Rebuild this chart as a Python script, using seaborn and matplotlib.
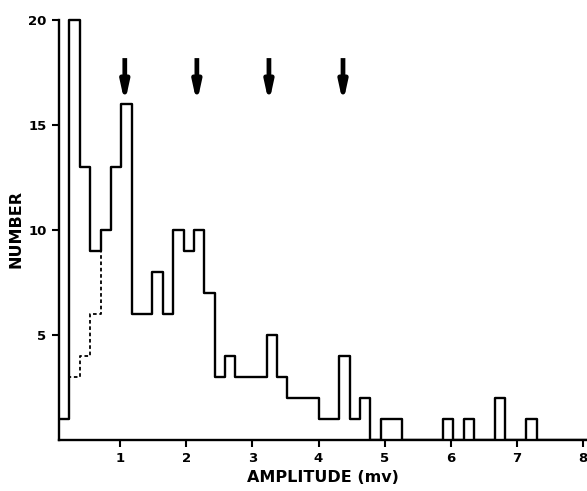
import numpy as np
import matplotlib
matplotlib.use("Agg")
import matplotlib.pyplot as plt
import seaborn as sns

# Histogram of event amplitudes (mv), counts per bin
bin_start = 0.075
bin_width = 0.157
counts = [1, 20, 13, 9, 10, 13, 16, 6, 6, 8,
          6, 10, 9, 10, 7, 3, 4, 3, 3, 3,
          5, 3, 2, 2, 2, 1, 1, 4, 1, 2,
          0, 1, 1, 0, 0, 0, 0, 1, 0, 1,
          0, 0, 2, 0, 0, 1, 0, 0, 0, 0, 0]
# dashed outline over the first bins
dashed_counts = [1, 3, 4, 6, 10]
# arrow positions (mv)
arrow_x = [1.07, 2.16, 3.25, 4.37]

x_ticks = [1, 2, 3, 4, 5, 6, 7, 8]
y_ticks = [5, 10, 15, 20]

sns.set_style("ticks")
plt.rcParams['font.family'] = ['DejaVu Sans']

fig = plt.figure(figsize=(5.87, 4.91), dpi=100)
ax = fig.add_axes([0.1005, 0.104, 0.8995, 0.861])

n = len(counts)
centers = bin_start + bin_width * (np.arange(n) + 0.5)
sns.histplot(x=centers, weights=counts, bins=n,
             binrange=(bin_start, bin_start + n * bin_width),
             element="step", fill=False, color="black", linewidth=1.7,
             ax=ax, zorder=3)

m = len(dashed_counts)
sns.histplot(x=centers[:m], weights=dashed_counts, bins=m,
             binrange=(bin_start, bin_start + m * bin_width),
             element="step", fill=False, color="black", linewidth=1.3,
             linestyle=(0, (2, 1.5)), ax=ax, zorder=2)

for xa in arrow_x:
    ax.annotate("", xy=(xa, 16.05), xytext=(xa, 18.2),
                arrowprops=dict(arrowstyle="-|>,head_width=0.24,head_length=1.1",
                                lw=3.4, color="black", shrinkA=0, shrinkB=0,
                                capstyle="butt"))

ax.set_xlim(bin_start, 8.06)
ax.set_ylim(0, 20.15)
ax.spines["left"].set_bounds(0, 20)
ax.set_xticks(x_ticks)
ax.set_yticks(y_ticks)
ax.set_xticklabels([str(t) for t in x_ticks], fontsize=9.5, fontweight="bold")
ax.set_yticklabels([str(t) for t in y_ticks], fontsize=9.5, fontweight="bold")
ax.tick_params(axis="both", direction="out", length=5, width=1.5, pad=4,
               colors="black")

ax.set_xlabel("AMPLITUDE (mv)", fontsize=11.5, fontweight="bold", labelpad=3,
              color="black")
ax.set_ylabel("NUMBER", fontsize=11.5, fontweight="bold", labelpad=3,
              color="black")

sns.despine(ax=ax, top=True, right=True)
ax.spines["left"].set_linewidth(1.7)
ax.spines["bottom"].set_linewidth(1.7)
ax.spines["left"].set_color("black")
ax.spines["bottom"].set_color("black")

fig.savefig("out.png", dpi=100)
